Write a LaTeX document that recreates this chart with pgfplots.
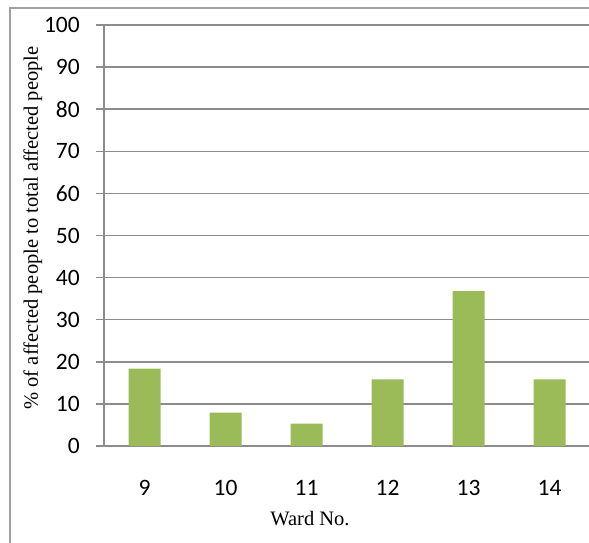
\documentclass[border=0pt]{standalone}
\usepackage{pgfplots}
\pgfplotsset{compat=1.18}
\usepackage{fontspec}
\setmainfont{Liberation Serif}
\newfontfamily\tickfont{Carlito}
\definecolor{barGreen}{HTML}{9BBB59}
\definecolor{gridGray}{HTML}{8C8C8C}
\definecolor{frameGray}{HTML}{A0A0A0}

\begin{document}
\begin{tikzpicture}[x=1pt,y=1pt]
\path[use as bounding box] (0,0) rectangle (589,542);
% chart frame (continues past the page edges on the right and bottom)
\draw[frameGray, line width=1.2pt] (10,-20) -- (10,534) -- (620,534);
\begin{axis}[
  at={(104pt,96pt)}, anchor=south west,
  scale only axis,
  width=486pt, height=421pt,
  xmin=-0.5, xmax=5.5,
  ymin=0, ymax=100,
  ytick={0,10,...,100},
  xtick={0,1,2,3,4,5},
  xticklabels={9,10,11,12,13,14},
  axis x line*=bottom,
  axis y line*=left,
  axis line style={gridGray, line width=1.5pt, -},
  x axis line style={shorten <=-8pt},
  ymajorgrids,
  grid style={gridGray, line width=1.5pt},
  major x tick style={draw=none},
  major y tick style={gridGray, line width=1.5pt},
  tick align=outside,
  major tick length=8pt,
  yticklabel style={font=\tickfont\fontsize{23.5}{28}\selectfont, anchor=east, inner sep=0pt, xshift=-16pt},
  xticklabel style={font=\tickfont\fontsize{23.5}{28}\selectfont, anchor=north, inner sep=0pt, yshift=-26pt},
  /pgf/number format/assume math mode=true,
  ybar, bar width=32pt,
  clip=false,
]
\addplot[fill=barGreen, draw=none] coordinates {(0,18.4) (1,7.9) (2,5.3) (3,15.8) (4,36.8) (5,15.8)};
\end{axis}
\node[anchor=base, font=\fontsize{20.5}{24}\selectfont] at (310,17) {Ward No.};
\node[anchor=base, rotate=90, font=\fontsize{20.5}{24}\selectfont] at (38,314) {\% of affected people to total affected people};
\end{tikzpicture}
\end{document}
